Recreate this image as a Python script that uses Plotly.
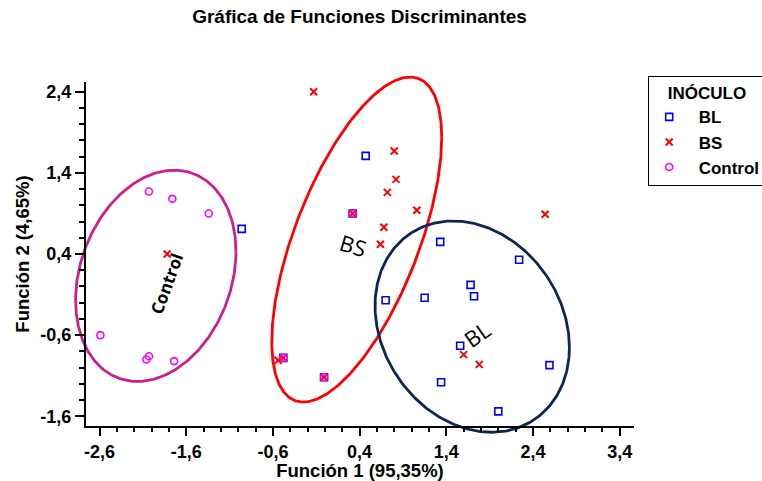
import numpy as np
import plotly.graph_objects as go

# Discriminant scores per inoculum group (Función 1, Función 2)
bl_f1 = [-0.96, 0.47, 1.33, 0.32, 2.24, 1.68, 1.72, 0.70, 1.15, 1.56, 2.59, 1.34, 2.00, -0.48, -0.01]
bl_f2 = [0.71, 1.61, 0.55, 0.90, 0.33, 0.02, -0.12, -0.17, -0.14, -0.73, -0.97, -1.18, -1.54, -0.88, -1.12]

bs_f1 = [-0.13, -1.82, -0.54, -0.48, -0.01, 0.80, 0.82, 0.72, 1.06, 0.68, 0.64, 0.32, 2.54, 1.60, 1.78]
bs_f2 = [2.40, 0.40, -0.91, -0.88, -1.12, 1.67, 1.32, 1.16, 0.94, 0.73, 0.52, 0.90, 0.89, -0.84, -0.96]

ctrl_f1 = [-2.03, -1.76, -1.34, -2.59, -2.06, -2.03, -1.74, -0.48, -0.01, 0.32]
ctrl_f2 = [1.17, 1.08, 0.90, -0.60, -0.90, -0.86, -0.92, -0.88, -1.12, 0.90]

# Group ellipses: centre (x, y), half-width, half-height, x-offset of the top point
ell_names = ["Control", "BS", "BL"]
ell_cx = [-1.951, 0.367, 1.699]
ell_cy = [0.131, 0.578, -0.495]
ell_w = [0.925, 0.980, 1.121]
ell_h = [1.302, 2.003, 1.302]
ell_top_dx = [0.212, 0.615, -0.221]
ell_colors = ["#CC1F8E", "#FF0000", "#0E2557"]

# Group labels written inside the ellipses
lab_text = ["<b>Control</b>", "BS", "BL"]
lab_x = [-1.825, 0.327, 1.751]
lab_y = [0.035, 0.507, -0.583]
lab_angle = [-70, 17, -35]
lab_size = [17, 22, 22]

# Axis ticks
x_ticks = [-2.6, -1.6, -0.6, 0.4, 1.4, 2.4, 3.4]
x_ticktext = ["-2,6", "-1,6", "-0,6", "0,4", "1,4", "2,4", "3,4"]
y_ticks = [-1.6, -0.6, 0.4, 1.4, 2.4]
y_ticktext = ["-1,6", "-0,6", "0,4", "1,4", "2,4"]

# Legend entries (non-breaking spaces keep the label clear of the symbol)
legend_names = ["\u00a0\u00a0BL", "\u00a0\u00a0BS", "\u00a0\u00a0Control"]

# Visible axis ranges
x_range = [-2.756, 3.565]
y_range = [-1.72, 2.52]

# Page geometry. The ellipses live on a hidden layer (x/y) that reaches a bit
# past the visible axes (x2/y2) so the curves are not cut at the axis lines.
W, H = 762, 481
m_l, m_r, m_t, m_b = 50, 128, 66, 35
ax_left, ax_right, ax_top, ax_bottom = 86, 634, 82, 426
plot_w = W - m_l - m_r
plot_h = H - m_t - m_b
x_dom = [(ax_left - m_l) / plot_w, (ax_right - m_l) / plot_w]
y_dom = [(H - m_b - ax_bottom) / plot_h, (H - m_b - ax_top) / plot_h]
kx = (ax_right - ax_left) / (x_range[1] - x_range[0])
ky = (ax_bottom - ax_top) / (y_range[1] - y_range[0])
layer_x_range = [x_range[0] - (ax_left - m_l) / kx,
                 x_range[1] + (W - m_r - ax_right) / kx]
layer_y_range = [y_range[0] - (H - m_b - ax_bottom) / ky,
                 y_range[1] + (ax_top - m_t) / ky]

fig = go.Figure()

t = np.linspace(0, 2 * np.pi, 361)
for cx, cy, w, h, dx, col in zip(ell_cx, ell_cy, ell_w, ell_h, ell_top_dx, ell_colors):
    s = dx * h
    cov = np.array([[w * w, s], [s, h * h]])
    m = np.linalg.cholesky(cov)
    pts = m @ np.vstack([np.cos(t), np.sin(t)])
    fig.add_trace(go.Scatter(
        x=cx + pts[0], y=cy + pts[1], mode="lines", xaxis="x", yaxis="y",
        line=dict(color=col, width=2.8), showlegend=False, hoverinfo="skip"))

fig.add_trace(go.Scatter(
    x=bl_f1, y=bl_f2, mode="markers", name=legend_names[0], xaxis="x2", yaxis="y2",
    marker=dict(symbol="square-open", size=7, color="#0000FF", line=dict(width=1.6))))
fig.add_trace(go.Scatter(
    x=bs_f1, y=bs_f2, mode="markers", name=legend_names[1], xaxis="x2", yaxis="y2",
    marker=dict(symbol="x-thin-open", size=7, color="#FF0000", line=dict(width=2, color="#FF0000"))))
fig.add_trace(go.Scatter(
    x=ctrl_f1, y=ctrl_f2, mode="markers", name=legend_names[2], xaxis="x2", yaxis="y2",
    marker=dict(symbol="circle-open", size=7, color="#FF00FF", line=dict(width=1.6))))

for txt, x, y, ang, sz in zip(lab_text, lab_x, lab_y, lab_angle, lab_size):
    fig.add_annotation(
        x=x, y=y, xref="x2", yref="y2", text=txt, showarrow=False, textangle=ang,
        font=dict(family="Open Sans", size=sz, color="black"))

axis_font = dict(family="Liberation Sans", size=18, color="black", weight="bold")
title_font = dict(family="Liberation Sans", size=18.5, color="black")

fig.update_layout(
    width=W, height=H,
    margin=dict(l=m_l, r=m_r, t=m_t, b=m_b, autoexpand=False),
    paper_bgcolor="white", plot_bgcolor="rgba(0,0,0,0)",
    font=dict(family="Liberation Sans", color="black"),
    title=dict(
        text="<b>Gráfica de Funciones Discriminantes</b>",
        font=dict(family="Liberation Sans", size=19, color="black"),
        x=359.5 / W, xref="container", xanchor="center",
        y=1 - 16 / H, yref="container", yanchor="middle"),
    xaxis=dict(domain=[0, 1], anchor="y", range=layer_x_range, visible=False),
    yaxis=dict(domain=[0, 1], anchor="x", range=layer_y_range, visible=False),
    xaxis2=dict(
        domain=x_dom, anchor="y2",
        range=x_range, showgrid=False, zeroline=False,
        showline=True, linecolor="black", linewidth=2,
        tickvals=x_ticks, ticktext=x_ticktext, tickfont=axis_font,
        ticks="outside", ticklen=8, tickwidth=2, tickcolor="black",
        minor=dict(dtick=0.2, tick0=-2.6, ticks="outside", ticklen=4,
                   tickwidth=1.5, tickcolor="black"),
        title=dict(text="<b>Función 1 (95,35%)</b>", font=title_font, standoff=4)),
    yaxis2=dict(
        domain=y_dom, anchor="x2",
        range=y_range, showgrid=False, zeroline=False,
        showline=True, linecolor="black", linewidth=2,
        tickvals=y_ticks, ticktext=y_ticktext, tickfont=axis_font,
        ticks="outside", ticklen=9, tickwidth=2, tickcolor="black",
        minor=dict(dtick=0.2, tick0=-1.6, ticks="outside", ticklen=5,
                   tickwidth=1.5, tickcolor="black"),
        title=dict(text="<b>Función 2 (4,65%)</b>", font=title_font, standoff=6)),
    legend=dict(
        x=(648 - m_l) / plot_w, y=(H - m_b - 76) / plot_h,
        xanchor="left", yanchor="top",
        bordercolor="black", borderwidth=1.2, bgcolor="white",
        font=dict(family="Liberation Sans", size=17, color="black", weight="bold"),
        title=dict(text="<b>INÓCULO</b>", side="top center",
                   font=dict(family="Liberation Sans", size=17, color="black")),
        tracegroupgap=0, itemwidth=30),
)

fig.write_html("out.html")
